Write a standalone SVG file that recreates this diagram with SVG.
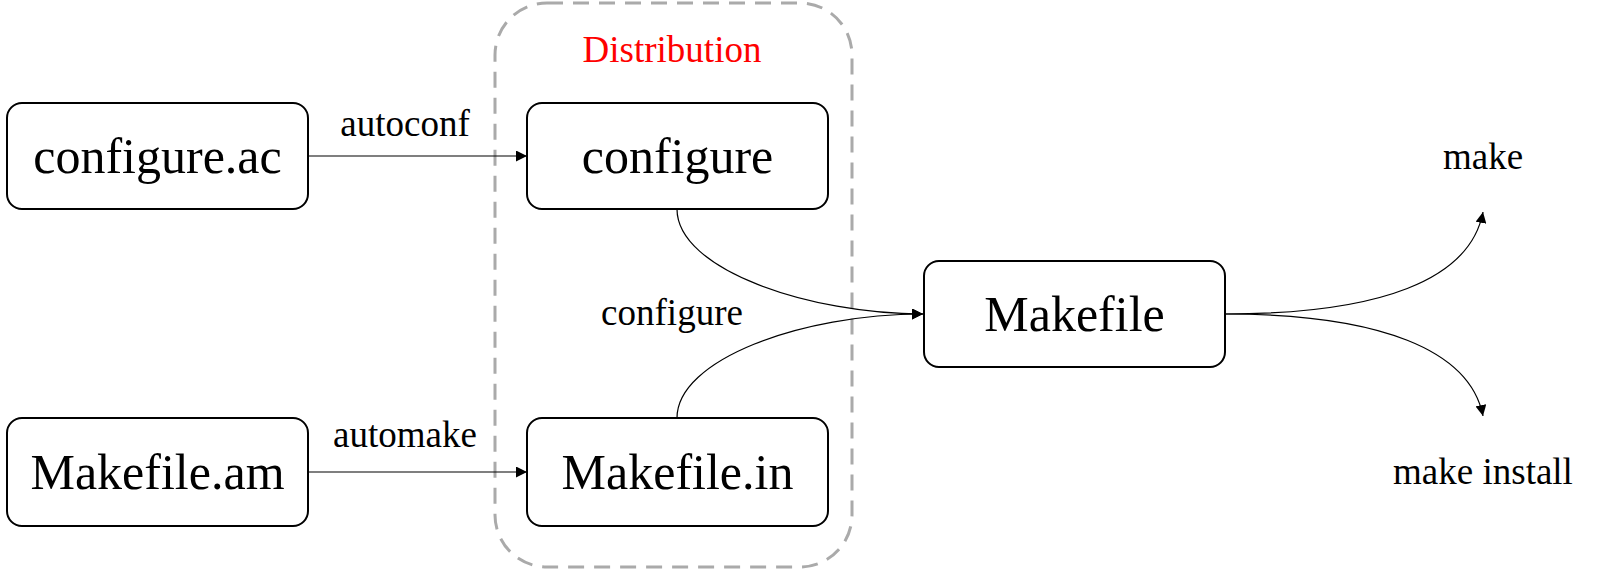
<svg xmlns="http://www.w3.org/2000/svg" width="1600" height="570" viewBox="0 0 1600 570">
<style>
text{font-family:'Liberation Serif','Times New Roman',serif;text-anchor:middle;fill:#000}
.node rect{fill:#fff;stroke:#000;stroke-width:2}
.node text{font-size:50px}
.lbl{font-size:37px}
.edge{fill:none;stroke:#000;stroke-width:1.2;marker-end:url(#arr)}
</style>
<defs>
<marker id="arr" viewBox="0 0 10 10" refX="10" refY="5" markerWidth="11" markerHeight="11" markerUnits="userSpaceOnUse" orient="auto">
<path d="M0,0 L10,5 L0,10 z" fill="#000"/>
</marker>
</defs>
<g id="distribution">
<rect x="495" y="3" width="357" height="564" rx="52" ry="52" fill="none" stroke="#aaaaaa" stroke-width="3" stroke-dasharray="16 10"/>
<text x="672" y="62" class="lbl" style="fill:#ff0000">Distribution</text>
</g>
<g id="connectors">
<path class="edge" d="M308,156 L527,156"/>
<path class="edge" d="M308,472 L527,472"/>
<path class="edge" d="M677,209 C677,270 810,314 923,314"/>
<path class="edge" d="M677,418 C677,360 800,314 923,314"/>
<path class="edge" d="M1225,314 C1380,314 1470,280 1483,212"/>
<path class="edge" d="M1225,314 C1380,314 1470,350 1483,416"/>
<text x="405" y="136" class="lbl">autoconf</text>
<text x="405" y="447" class="lbl">automake</text>
<text x="672" y="325" class="lbl">configure</text>
<text x="1483" y="169" class="lbl">make</text>
<text x="1483" y="484" class="lbl">make install</text>
</g>
<g id="configure_ac" class="node"><rect x="7" y="103" width="301" height="106" rx="15"/><text x="157.5" y="173">configure.ac</text></g>
<g id="configure" class="node"><rect x="527" y="103" width="301" height="106" rx="15"/><text x="677.5" y="173">configure</text></g>
<g id="makefile_am" class="node"><rect x="7" y="418" width="301" height="108" rx="15"/><text x="157.5" y="489">Makefile.am</text></g>
<g id="makefile_in" class="node"><rect x="527" y="418" width="301" height="108" rx="15"/><text x="677.5" y="489">Makefile.in</text></g>
<g id="makefile" class="node"><rect x="924" y="261" width="301" height="106" rx="15"/><text x="1074.5" y="331">Makefile</text></g>
</svg>
